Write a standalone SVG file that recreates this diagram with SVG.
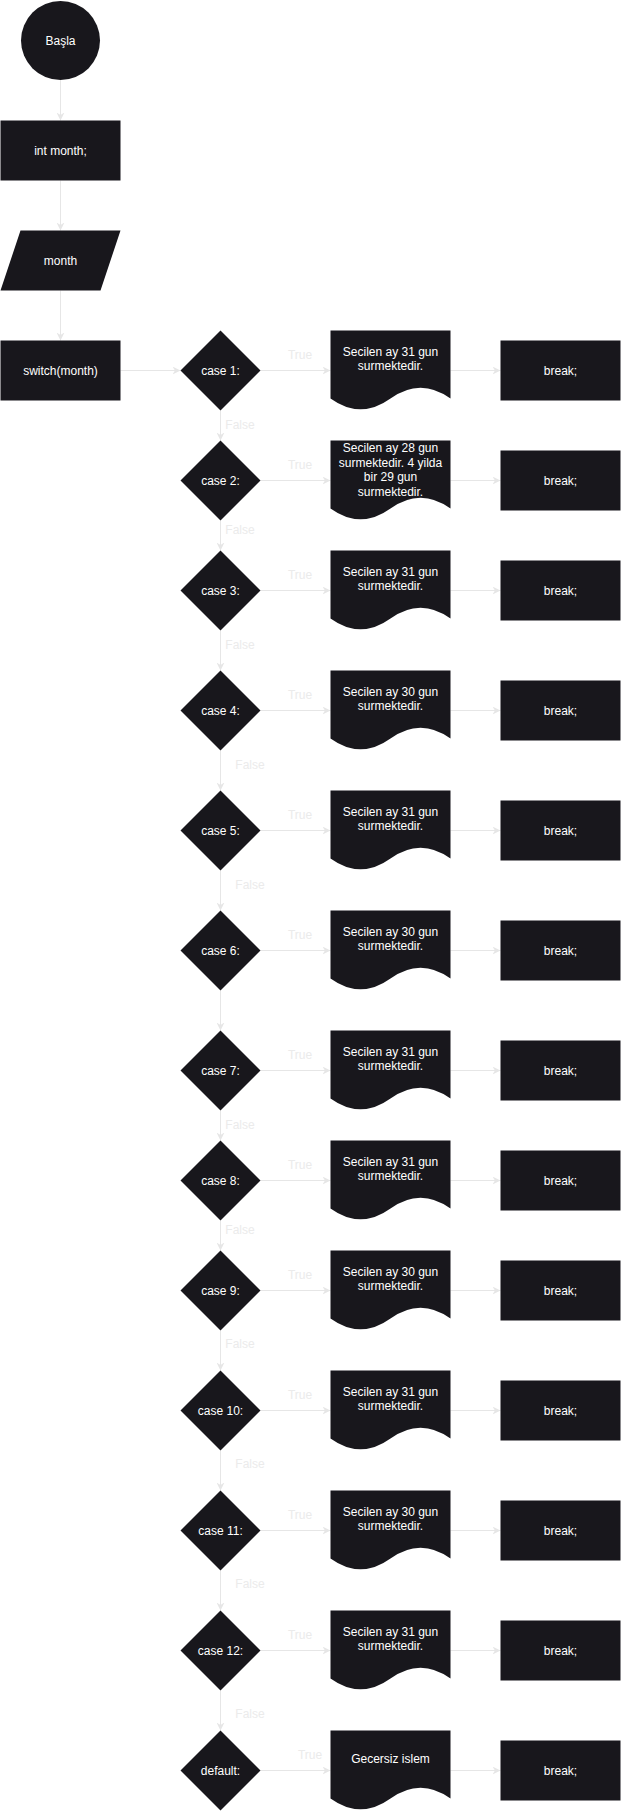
<svg xmlns="http://www.w3.org/2000/svg" width="621" height="1811" viewBox="0 0 621 1811">
<style>
.n{fill:#18171c;stroke:none}
.t{font-family:"Liberation Sans",Arial,Helvetica,sans-serif;font-size:12px;fill:#ffffff;text-anchor:middle}
.lb{font-family:"Liberation Sans",Arial,Helvetica,sans-serif;font-size:12px;fill:#ebebeb;text-anchor:middle}
.e{stroke:#e6e6e6;stroke-width:1;fill:none;marker-end:url(#ah)}
</style>
<defs>
<marker id="ah" viewBox="0 0 10 10" refX="10" refY="5" markerWidth="8" markerHeight="8" markerUnits="userSpaceOnUse" orient="auto">
<path d="M0,0 L10,5 L0,10 L3,5 Z" fill="#e6e6e6"/>
</marker>
<path id="doc" d="M0,0 L120,0 L120,68 Q90,46.4 60,68 Q30,89.6 0,68 Z"/>
<polygon id="dia" points="-40,0 0,-40 40,0 0,40"/>
<rect id="brk" x="0" y="-30" width="120" height="60"/>
</defs>
<rect x="0" y="0" width="621" height="1811" fill="#ffffff"/>

<g id="connectors">
<path class="e" d="M60.5,80 L60.5,120.5"/>
<path class="e" d="M60.5,180.5 L60.5,230.5"/>
<path class="e" d="M60.5,290.5 L60.5,340.5"/>
<path class="e" d="M120.5,370.5 L180.5,370.5"/>
<path class="e" d="M260.5,370.5 L330.5,370.5"/><path class="e" d="M450.5,370.5 L500.5,370.5"/>
<path class="e" d="M260.5,480.5 L330.5,480.5"/><path class="e" d="M450.5,480.5 L500.5,480.5"/>
<path class="e" d="M260.5,590.5 L330.5,590.5"/><path class="e" d="M450.5,590.5 L500.5,590.5"/>
<path class="e" d="M260.5,710.5 L330.5,710.5"/><path class="e" d="M450.5,710.5 L500.5,710.5"/>
<path class="e" d="M260.5,830.5 L330.5,830.5"/><path class="e" d="M450.5,830.5 L500.5,830.5"/>
<path class="e" d="M260.5,950.5 L330.5,950.5"/><path class="e" d="M450.5,950.5 L500.5,950.5"/>
<path class="e" d="M260.5,1070.5 L330.5,1070.5"/><path class="e" d="M450.5,1070.5 L500.5,1070.5"/>
<path class="e" d="M260.5,1180.5 L330.5,1180.5"/><path class="e" d="M450.5,1180.5 L500.5,1180.5"/>
<path class="e" d="M260.5,1290.5 L330.5,1290.5"/><path class="e" d="M450.5,1290.5 L500.5,1290.5"/>
<path class="e" d="M260.5,1410.5 L330.5,1410.5"/><path class="e" d="M450.5,1410.5 L500.5,1410.5"/>
<path class="e" d="M260.5,1530.5 L330.5,1530.5"/><path class="e" d="M450.5,1530.5 L500.5,1530.5"/>
<path class="e" d="M260.5,1650.5 L330.5,1650.5"/><path class="e" d="M450.5,1650.5 L500.5,1650.5"/>
<path class="e" d="M260.5,1770.5 L330.5,1770.5"/><path class="e" d="M450.5,1770.5 L500.5,1770.5"/>
<path class="e" d="M220.5,410.5 L220.5,440.5"/>
<path class="e" d="M220.5,520.5 L220.5,550.5"/>
<path class="e" d="M220.5,630.5 L220.5,670.5"/>
<path class="e" d="M220.5,750.5 L220.5,790.5"/>
<path class="e" d="M220.5,870.5 L220.5,910.5"/>
<path class="e" d="M220.5,990.5 L220.5,1030.5"/>
<path class="e" d="M220.5,1110.5 L220.5,1140.5"/>
<path class="e" d="M220.5,1220.5 L220.5,1250.5"/>
<path class="e" d="M220.5,1330.5 L220.5,1370.5"/>
<path class="e" d="M220.5,1450.5 L220.5,1490.5"/>
<path class="e" d="M220.5,1570.5 L220.5,1610.5"/>
<path class="e" d="M220.5,1690.5 L220.5,1730.5"/>
<g class="lb">
<text x="300" y="358.5">True</text>
<text x="300" y="468.5">True</text>
<text x="300" y="578.5">True</text>
<text x="300" y="698.5">True</text>
<text x="300" y="818.5">True</text>
<text x="300" y="938.5">True</text>
<text x="300" y="1058.5">True</text>
<text x="300" y="1168.5">True</text>
<text x="300" y="1278.5">True</text>
<text x="300" y="1398.5">True</text>
<text x="300" y="1518.5">True</text>
<text x="300" y="1638.5">True</text>
<text x="310" y="1758.5">True</text>
<text x="240" y="429">False</text>
<text x="240" y="534">False</text>
<text x="240" y="649">False</text>
<text x="250" y="769">False</text>
<text x="250" y="889">False</text>
<text x="240" y="1129">False</text>
<text x="240" y="1234">False</text>
<text x="240" y="1348">False</text>
<text x="250" y="1468">False</text>
<text x="250" y="1588">False</text>
<text x="250" y="1718">False</text>
</g>
</g>

<g id="start"><circle class="n" cx="60.5" cy="40.5" r="39.5"/><text class="t" x="60.5" y="44.5">Başla</text></g>
<g id="decl"><rect class="n" x="0.5" y="120.5" width="120" height="60"/><text class="t" x="60.5" y="154.5">int month;</text></g>
<g id="input"><polygon class="n" points="20.5,230.5 120.5,230.5 100.5,290.5 0.5,290.5"/><text class="t" x="60.5" y="264.5">month</text></g>
<g id="switch"><rect class="n" x="0.5" y="340.5" width="120" height="60"/><text class="t" x="60.5" y="374.5">switch(month)</text></g>

<g id="case1"><use href="#dia" class="n" x="220.5" y="370.5"/><text class="t" x="220.5" y="374.5">case 1:</text></g>
<g id="doc1"><use href="#doc" class="n" x="330.5" y="330.5"/><text class="t" x="390.5" y="355.5">Secilen ay 31 gun</text><text class="t" x="390.5" y="370">surmektedir.</text></g>
<g id="break1"><use href="#brk" class="n" x="500.5" y="370.5"/><text class="t" x="560.5" y="374.5">break;</text></g>

<g id="case2"><use href="#dia" class="n" x="220.5" y="480.5"/><text class="t" x="220.5" y="484.5">case 2:</text></g>
<g id="doc2"><use href="#doc" class="n" x="330.5" y="440.5"/><text class="t" x="390.5" y="452">Secilen ay 28 gun</text><text class="t" x="390.5" y="466.5">surmektedir. 4 yilda</text><text class="t" x="390.5" y="481">bir 29 gun</text><text class="t" x="390.5" y="495.5">surmektedir.</text></g>
<g id="break2"><use href="#brk" class="n" x="500.5" y="480.5"/><text class="t" x="560.5" y="484.5">break;</text></g>

<g id="case3"><use href="#dia" class="n" x="220.5" y="590.5"/><text class="t" x="220.5" y="594.5">case 3:</text></g>
<g id="doc3"><use href="#doc" class="n" x="330.5" y="550.5"/><text class="t" x="390.5" y="575.5">Secilen ay 31 gun</text><text class="t" x="390.5" y="590">surmektedir.</text></g>
<g id="break3"><use href="#brk" class="n" x="500.5" y="590.5"/><text class="t" x="560.5" y="594.5">break;</text></g>

<g id="case4"><use href="#dia" class="n" x="220.5" y="710.5"/><text class="t" x="220.5" y="714.5">case 4:</text></g>
<g id="doc4"><use href="#doc" class="n" x="330.5" y="670.5"/><text class="t" x="390.5" y="695.5">Secilen ay 30 gun</text><text class="t" x="390.5" y="710">surmektedir.</text></g>
<g id="break4"><use href="#brk" class="n" x="500.5" y="710.5"/><text class="t" x="560.5" y="714.5">break;</text></g>

<g id="case5"><use href="#dia" class="n" x="220.5" y="830.5"/><text class="t" x="220.5" y="834.5">case 5:</text></g>
<g id="doc5"><use href="#doc" class="n" x="330.5" y="790.5"/><text class="t" x="390.5" y="815.5">Secilen ay 31 gun</text><text class="t" x="390.5" y="830">surmektedir.</text></g>
<g id="break5"><use href="#brk" class="n" x="500.5" y="830.5"/><text class="t" x="560.5" y="834.5">break;</text></g>

<g id="case6"><use href="#dia" class="n" x="220.5" y="950.5"/><text class="t" x="220.5" y="954.5">case 6:</text></g>
<g id="doc6"><use href="#doc" class="n" x="330.5" y="910.5"/><text class="t" x="390.5" y="935.5">Secilen ay 30 gun</text><text class="t" x="390.5" y="950">surmektedir.</text></g>
<g id="break6"><use href="#brk" class="n" x="500.5" y="950.5"/><text class="t" x="560.5" y="954.5">break;</text></g>

<g id="case7"><use href="#dia" class="n" x="220.5" y="1070.5"/><text class="t" x="220.5" y="1074.5">case 7:</text></g>
<g id="doc7"><use href="#doc" class="n" x="330.5" y="1030.5"/><text class="t" x="390.5" y="1055.5">Secilen ay 31 gun</text><text class="t" x="390.5" y="1070">surmektedir.</text></g>
<g id="break7"><use href="#brk" class="n" x="500.5" y="1070.5"/><text class="t" x="560.5" y="1074.5">break;</text></g>

<g id="case8"><use href="#dia" class="n" x="220.5" y="1180.5"/><text class="t" x="220.5" y="1184.5">case 8:</text></g>
<g id="doc8"><use href="#doc" class="n" x="330.5" y="1140.5"/><text class="t" x="390.5" y="1165.5">Secilen ay 31 gun</text><text class="t" x="390.5" y="1180">surmektedir.</text></g>
<g id="break8"><use href="#brk" class="n" x="500.5" y="1180.5"/><text class="t" x="560.5" y="1184.5">break;</text></g>

<g id="case9"><use href="#dia" class="n" x="220.5" y="1290.5"/><text class="t" x="220.5" y="1294.5">case 9:</text></g>
<g id="doc9"><use href="#doc" class="n" x="330.5" y="1250.5"/><text class="t" x="390.5" y="1275.5">Secilen ay 30 gun</text><text class="t" x="390.5" y="1290">surmektedir.</text></g>
<g id="break9"><use href="#brk" class="n" x="500.5" y="1290.5"/><text class="t" x="560.5" y="1294.5">break;</text></g>

<g id="case10"><use href="#dia" class="n" x="220.5" y="1410.5"/><text class="t" x="220.5" y="1414.5">case 10:</text></g>
<g id="doc10"><use href="#doc" class="n" x="330.5" y="1370.5"/><text class="t" x="390.5" y="1395.5">Secilen ay 31 gun</text><text class="t" x="390.5" y="1410">surmektedir.</text></g>
<g id="break10"><use href="#brk" class="n" x="500.5" y="1410.5"/><text class="t" x="560.5" y="1414.5">break;</text></g>

<g id="case11"><use href="#dia" class="n" x="220.5" y="1530.5"/><text class="t" x="220.5" y="1534.5">case 11:</text></g>
<g id="doc11"><use href="#doc" class="n" x="330.5" y="1490.5"/><text class="t" x="390.5" y="1515.5">Secilen ay 30 gun</text><text class="t" x="390.5" y="1530">surmektedir.</text></g>
<g id="break11"><use href="#brk" class="n" x="500.5" y="1530.5"/><text class="t" x="560.5" y="1534.5">break;</text></g>

<g id="case12"><use href="#dia" class="n" x="220.5" y="1650.5"/><text class="t" x="220.5" y="1654.5">case 12:</text></g>
<g id="doc12"><use href="#doc" class="n" x="330.5" y="1610.5"/><text class="t" x="390.5" y="1635.5">Secilen ay 31 gun</text><text class="t" x="390.5" y="1650">surmektedir.</text></g>
<g id="break12"><use href="#brk" class="n" x="500.5" y="1650.5"/><text class="t" x="560.5" y="1654.5">break;</text></g>

<g id="default"><use href="#dia" class="n" x="220.5" y="1770.5"/><text class="t" x="220.5" y="1774.5">default:</text></g>
<g id="docDefault"><use href="#doc" class="n" x="330.5" y="1730.5"/><text class="t" x="390.5" y="1762.5">Gecersiz islem</text></g>
<g id="breakDefault"><use href="#brk" class="n" x="500.5" y="1770.5"/><text class="t" x="560.5" y="1774.5">break;</text></g>
</svg>
